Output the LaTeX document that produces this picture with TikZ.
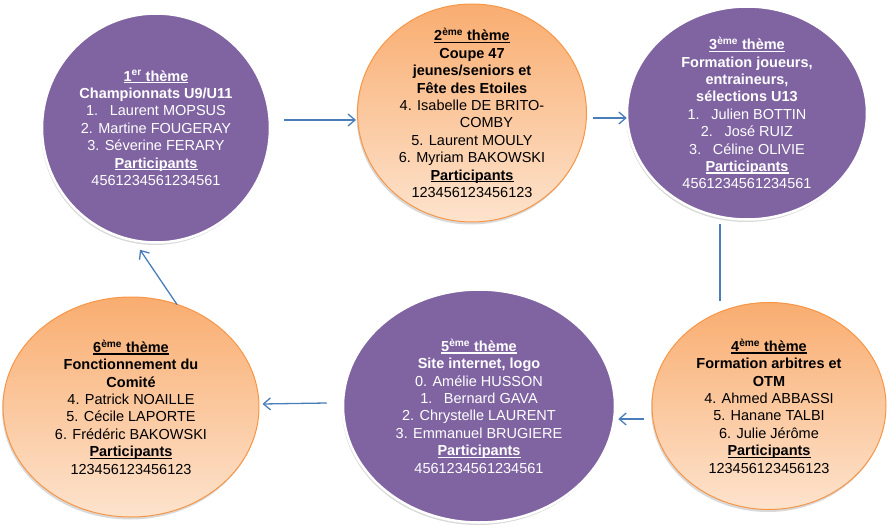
\documentclass[tikz,border=0pt]{standalone}
\usepackage{fontspec}
\setmainfont{Liberation Sans}
\usetikzlibrary{shapes,arrows.meta,shadows}
\definecolor{themepurple}{HTML}{8064A2}
\definecolor{themeorange}{HTML}{F79646}
\definecolor{orangetop}{HTML}{F9AD70}
\definecolor{orangebot}{HTML}{FDE3CD}
\definecolor{linkblue}{HTML}{4A7EBB}
\newcommand{\thul}[1]{\setbox0\hbox{\bfseries #1}\rlap{\rule[-2.2pt]{\wd0}{1.3pt}}\box0}
\tikzstyle{bubble} = [ellipse, align=center, inner sep=-12pt,
    font=\fontsize{14.5}{17.4}\selectfont,
    drop shadow={shadow xshift=-1pt, shadow yshift=-2.5pt, opacity=0.3}]
\tikzstyle{violetbubble} = [bubble, draw=white, line width=2.5pt,
    fill=themepurple, text=white]
\tikzstyle{orangebubble} = [bubble, draw=themeorange, line width=1pt,
    top color=orangetop, bottom color=orangebot, text=black]
\tikzstyle{link} = [draw=linkblue, line width=1.3pt,
    -{Straight Barb[length=7pt,width=12pt]}]

\begin{document}
\begin{tikzpicture}[x=1pt,y=-1pt]
\useasboundingbox (0,0) rectangle (887,527);

\node[violetbubble, name=theme1, minimum width=228pt, minimum height=229pt] at (156,128)
 {\thul{1\textsuperscript{er} thème}\\
  \bfseries Championnats U9/U11\\
  1.\hspace{0.8em}Laurent MOPSUS\\
  2. Martine FOUGERAY\\
  3. Séverine FERARY\\
  \thul{Participants}\\
  4561234561234561};

\node[orangebubble, name=theme2, minimum width=229pt, minimum height=218pt] at (472,113)
 {\thul{2\textsuperscript{ème} thème}\\
  \bfseries Coupe 47\\
  \bfseries jeunes/seniors et\\
  \bfseries Fête des Etoiles\\
  4. Isabelle DE BRITO-\\
  \hspace*{2em}COMBY\\
  5. Laurent MOULY\\
  6. Myriam BAKOWSKI\\
  \thul{Participants}\\
  123456123456123};

\node[violetbubble, name=theme3, minimum width=240pt, minimum height=213pt] at (747,113)
 {\thul{3\textsuperscript{ème} thème}\\
  \bfseries Formation joueurs,\\
  \bfseries entraineurs,\\
  \bfseries sélections U13\\
  1.\hspace{0.8em}Julien BOTTIN\\
  2.\hspace{0.8em}José RUIZ\\
  3.\hspace{0.8em}Céline OLIVIE\\
  \thul{Participants}\\
  4561234561234561};

\node[orangebubble, name=theme4, minimum width=234pt, minimum height=207pt] at (769,406)
 {\thul{4\textsuperscript{ème} thème}\\
  \bfseries Formation arbitres et\\
  \bfseries OTM\\
  4. Ahmed ABBASSI\\
  5. Hanane TALBI\\
  6. Julie Jérôme\\
  \thul{Participants}\\
  123456123456123};

\node[violetbubble, name=theme5, minimum width=272pt, minimum height=233pt] at (479,406)
 {\thul{5\textsuperscript{ème} thème}\\
  \bfseries Site internet, logo\\
  0. Amélie HUSSON\\
  1.\hspace{0.8em}Bernard GAVA\\
  2. Chrystelle LAURENT\\
  3. Emmanuel BRUGIERE\\
  \thul{Participants}\\
  4561234561234561};

\node[orangebubble, name=theme6, minimum width=256pt, minimum height=220pt] at (131,407)
 {\thul{6\textsuperscript{ème} thème}\\
  \bfseries Fonctionnement du\\
  \bfseries Comité\\
  4. Patrick NOAILLE\\
  5. Cécile LAPORTE\\
  6. Frédéric BAKOWSKI\\
  \thul{Participants}\\
  123456123456123};

\draw[link] ([shift={(13,-8)}]theme1.east) -- ([shift={(-1,7)}]theme2.west);
\draw[link] ([shift={(6,5)}]theme2.east) -- ([shift={(1,5)}]theme3.west);
\draw[link, -] ([shift={(-27,3)}]theme3.south) -- ([shift={(-49,-1)}]theme4.north);
\draw[link] ([shift={(-8,13)}]theme4.west) -- ([shift={(2,13)}]theme5.east);
\draw[link] ([shift={(-15,-3)}]theme5.west) -- ([shift={(3,-3)}]theme6.east);
\draw[link] ([shift={(46,8)}]theme6.north) -- ([shift={(-16,6)}]theme1.south);
\end{tikzpicture}
\end{document}
